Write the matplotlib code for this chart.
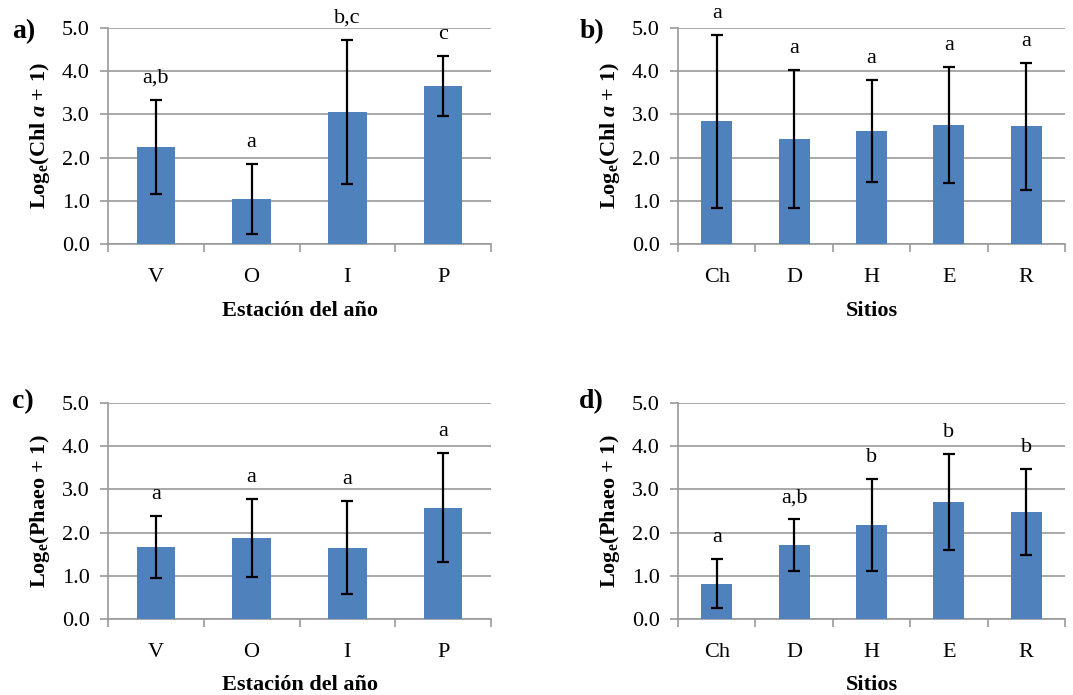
import matplotlib
matplotlib.use("Agg")
import matplotlib.pyplot as plt
import numpy as np

### Data
estaciones = ["V", "O", "I", "P"]
sitios = ["Ch", "D", "H", "E", "R"]

chl_est = [2.25, 1.04, 3.06, 3.66]
chl_est_err = [1.09, 0.81, 1.66, 0.70]
chl_est_let = ["a,b", "a", "b,c", "c"]

chl_sit = [2.84, 2.43, 2.62, 2.75, 2.72]
chl_sit_err = [2.00, 1.60, 1.18, 1.34, 1.46]
chl_sit_let = ["a", "a", "a", "a", "a"]

phaeo_est = [1.67, 1.87, 1.65, 2.58]
phaeo_est_err = [0.71, 0.90, 1.08, 1.26]
phaeo_est_let = ["a", "a", "a", "a"]

phaeo_sit = [0.82, 1.71, 2.18, 2.70, 2.47]
phaeo_sit_err = [0.56, 0.60, 1.06, 1.11, 1.00]
phaeo_sit_let = ["a", "a,b", "b", "b", "b"]

### Style
plt.rcParams["font.family"] = ["Liberation Serif", "DejaVu Serif"]
plt.rcParams["mathtext.fontset"] = "custom"
plt.rcParams["mathtext.rm"] = "Liberation Serif"
plt.rcParams["mathtext.it"] = "Liberation Serif:italic"
plt.rcParams["mathtext.bf"] = "Liberation Serif:bold"
plt.rcParams["mathtext.bfit"] = "Liberation Serif:bold:italic"

bar_color = "#4F81BD"
grid_color = "#9a9a9a"
fs_tick = 16
fs_label = 16

chl_label = r"$\mathbf{Log_e}$(Chl $\mathbfit{a}$ + 1)"
phaeo_label = r"$\mathbf{Log_e}$(Phaeo + 1)"


def draw_panel(ax, cats, vals, errs, letters, xlabel, ylabel):
    x = np.arange(len(cats))
    ax.bar(x, vals, width=0.4, color=bar_color, zorder=3)
    ax.errorbar(x, vals, yerr=errs, fmt="none", ecolor="black",
                elinewidth=1.6, capsize=4, capthick=1.6, zorder=4)
    for xi, v, e, t in zip(x, vals, errs, letters):
        ax.text(xi, v + e + 0.5, t, ha="center", va="center", fontsize=fs_tick)
    ax.set_xlim(-0.5, len(cats) - 0.5)
    ax.set_ylim(0, 5)
    ax.set_yticks(np.arange(0, 5.01, 1.0))
    ax.set_yticklabels([f"{v:.1f}" for v in np.arange(0, 5.01, 1.0)])
    # boundary ticks (major) and centered labels (minor)
    ax.set_xticks(np.arange(-0.5, len(cats), 1.0))
    ax.set_xticklabels([])
    ax.set_xticks(x, minor=True)
    ax.set_xticklabels(cats, minor=True)
    ax.tick_params(axis="x", which="major", length=6, width=1.2, color=grid_color, direction="out")
    ax.tick_params(axis="x", which="minor", length=0, labelsize=fs_tick, pad=17)
    ax.tick_params(axis="y", length=6, width=1.2, color=grid_color, labelsize=fs_tick, pad=7)
    ax.yaxis.grid(True, color=grid_color, linewidth=1.2, zorder=0)
    ax.set_axisbelow(True)
    for s in ["top", "right"]:
        ax.spines[s].set_visible(False)
    for s in ["left", "bottom"]:
        ax.spines[s].set_color(grid_color)
        ax.spines[s].set_linewidth(1.2)
    ax.set_xlabel(xlabel, fontsize=fs_label, fontweight="bold", labelpad=10)
    ax.set_ylabel(ylabel, fontsize=fs_label, fontweight="bold", labelpad=7)


fig = plt.figure(figsize=(10.73, 6.95), dpi=100)
W, H = 1073.0, 695.0
ax_a = fig.add_axes([108 / W, 1 - 244 / H, 383 / W, 216 / H])
ax_b = fig.add_axes([678 / W, 1 - 244 / H, 387 / W, 216 / H])
ax_c = fig.add_axes([108 / W, 1 - 619 / H, 383 / W, 216 / H])
ax_d = fig.add_axes([678 / W, 1 - 619 / H, 387 / W, 216 / H])

draw_panel(ax_a, estaciones, chl_est, chl_est_err, chl_est_let, "Estación del año", chl_label)
draw_panel(ax_b, sitios, chl_sit, chl_sit_err, chl_sit_let, "Sitios", chl_label)
draw_panel(ax_c, estaciones, phaeo_est, phaeo_est_err, phaeo_est_let, "Estación del año", phaeo_label)
draw_panel(ax_d, sitios, phaeo_sit, phaeo_sit_err, phaeo_sit_let, "Sitios", phaeo_label)

for lab, px, py in [("a)", 12, 32), ("b)", 580, 32), ("c)", 12, 402), ("d)", 579, 402)]:
    fig.text(px / W, 1 - py / H, lab, fontsize=20, fontweight="bold", ha="left", va="center")

fig.savefig("out.png", dpi=100)
